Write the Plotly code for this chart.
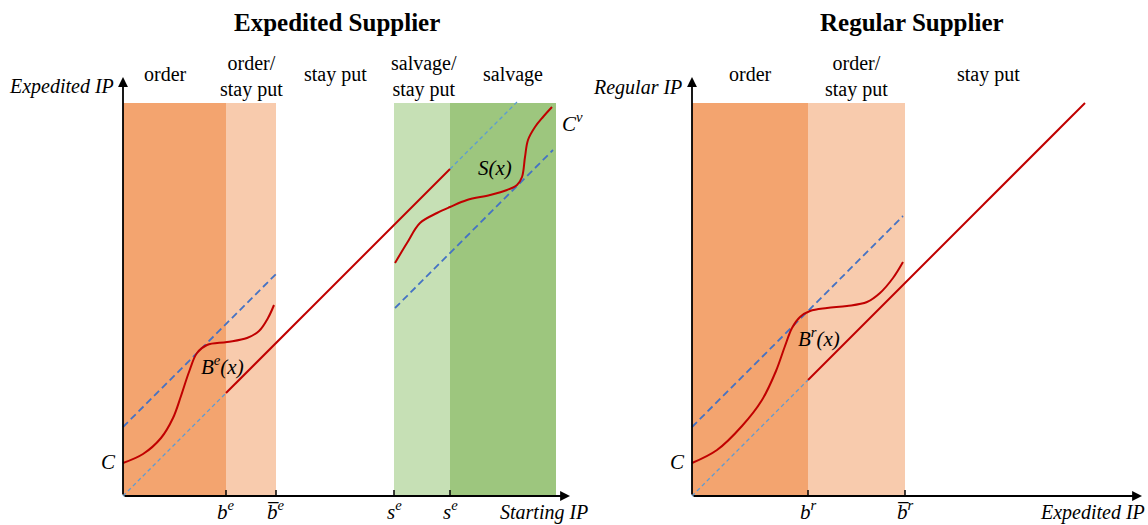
import plotly.graph_objects as go

# ---------------- Expedited supplier panel ----------------
EXP_BREAKS = [103, 153, 271, 327]          # b^e, b̄^e, s^e, s^e
EXP_BREAK_LABELS = ["b<sup>e</sup>", "b\u0305<sup>e</sup>", "s<sup>e</sup>", "s<sup>e</sup>"]
EXP_X_END = 433                             # right edge of the salvage band
EXP_BAND_TOP = 393
EXP_REGIONS = ["order", "order/<br>stay put", "stay put", "salvage/<br>stay put", "salvage"]
EXP_REGION_X = [42, 128, 212, 301, 390]

# B^e(x): order-up-to curve
BE_X = [0, 20, 38, 50, 58, 66, 74, 84, 104, 124, 136, 145, 151]
BE_Y = [33, 42, 58, 78, 100, 124, 143, 151, 154, 158, 165, 178, 191]
# S(x): salvage-down-to curve
S_X = [272, 284, 297, 314, 327, 344, 367, 384, 394, 399, 402, 405, 412, 420, 429]
S_Y = [233, 253, 273, 283, 289, 296, 301, 306, 311, 319, 339, 356, 369, 379, 389]
# 45-degree reference lines (start x, end x, intercept)
EXP_DIAG = [0, 394, 0]
EXP_UPPER = [0, 153, 69]
EXP_LOWER = [272, 430, -84]

# ---------------- Regular supplier panel ----------------
REG_BREAKS = [116, 213]                     # b^r, b̄^r
REG_BREAK_LABELS = ["b<sup>r</sup>", "b\u0305<sup>r</sup>"]
REG_BAND_TOP = 393
REG_REGIONS = ["order", "order/<br>stay put", "stay put"]
REG_REGION_X = [58, 164, 296]

BR_X = [0, 25, 50, 70, 84, 93, 100, 108, 118, 135, 155, 175, 188, 201, 211]
BR_Y = [33, 46, 70, 96, 125, 150, 168, 179, 185, 188, 190, 194, 203, 218, 234]
REG_DIAG = [0, 393, 0]
REG_UPPER = [0, 211, 69]

RED = "#C00000"
BLUE = "#4472C4"
LIGHT_BLUE = "#5B9BD5"
ORANGE_DARK = "#F3A46F"
ORANGE_LIGHT = "#F8CBAD"
GREEN_LIGHT = "#C6E0B5"
GREEN_DARK = "#9DC67E"

SERIF = "Liberation Serif"

fig = go.Figure()
shapes = []
annotations = []


def rect(xref, yref, x0, x1, y1, color):
    shapes.append(dict(type="rect", xref=xref, yref=yref, x0=x0, x1=x1, y0=0, y1=y1,
                       fillcolor=color, line=dict(width=0), layer="below"))


def line_trace(xa, ya, xs, ys, color, width, dash="solid", shape="linear"):
    fig.add_trace(go.Scatter(x=xs, y=ys, mode="lines", xaxis=xa, yaxis=ya,
                             line=dict(color=color, width=width, dash=dash, shape=shape),
                             hoverinfo="skip", showlegend=False))


def diag(xa, ya, spec, color, width, dash="solid"):
    x0, x1, b = spec
    line_trace(xa, ya, [x0, x1], [x0 + b, x1 + b], color, width, dash)


def text(xref, yref, x, y, s, size=20, italic=False, bold=False, xanchor="center",
         yanchor="middle", yshift=0, family=SERIF):
    if bold:
        s = "<b>" + s + "</b>"
    if italic:
        s = "<i>" + s + "</i>"
    annotations.append(dict(xref=xref, yref=yref, x=x, y=y, text=s, showarrow=False,
                            xanchor=xanchor, yanchor=yanchor, yshift=yshift,
                            font=dict(family=family, size=size, color="black")))


def axis_arrow(xref, yref, x, y):
    annotations.append(dict(xref=xref, yref=yref, axref=xref, ayref=yref, x=x, y=y, ax=0, ay=0,
                            text="", showarrow=True, arrowhead=2, arrowsize=1.1,
                            arrowwidth=1.8, arrowcolor="black"))


# ----- panel 1 bands -----
rect("x", "y", 0, EXP_BREAKS[0], EXP_BAND_TOP, ORANGE_DARK)
rect("x", "y", EXP_BREAKS[0], EXP_BREAKS[1], EXP_BAND_TOP, ORANGE_LIGHT)
rect("x", "y", EXP_BREAKS[2], EXP_BREAKS[3], EXP_BAND_TOP, GREEN_LIGHT)
rect("x", "y", EXP_BREAKS[3], EXP_X_END, EXP_BAND_TOP, GREEN_DARK)

# ----- panel 2 bands -----
rect("x2", "y2", 0, REG_BREAKS[0], REG_BAND_TOP, ORANGE_DARK)
rect("x2", "y2", REG_BREAKS[0], REG_BREAKS[1], REG_BAND_TOP, ORANGE_LIGHT)

# ----- panel 1 lines -----
diag("x", "y", [EXP_DIAG[0], EXP_BREAKS[0], 0], LIGHT_BLUE, 1.3, "4px,3px")
diag("x", "y", [EXP_BREAKS[3], EXP_DIAG[1], 0], LIGHT_BLUE, 1.3, "4px,3px")
diag("x", "y", EXP_UPPER, BLUE, 1.8, "7px,4px")
diag("x", "y", EXP_LOWER, BLUE, 1.8, "7px,4px")
diag("x", "y", [EXP_BREAKS[0], EXP_BREAKS[3], 0], RED, 2)
line_trace("x", "y", BE_X, BE_Y, RED, 2, shape="spline")
line_trace("x", "y", S_X, S_Y, RED, 2, shape="spline")

# ----- panel 2 lines -----
diag("x2", "y2", [REG_DIAG[0], REG_BREAKS[0], 0], LIGHT_BLUE, 1.3, "4px,3px")
diag("x2", "y2", REG_UPPER, BLUE, 1.8, "7px,4px")
diag("x2", "y2", [REG_BREAKS[0], REG_DIAG[1], 0], RED, 2)
line_trace("x2", "y2", BR_X, BR_Y, RED, 2, shape="spline")

# ----- axes with arrowheads and tick marks -----
axis_arrow("x", "y", 447, 0)
axis_arrow("x", "y", 0, 419)
axis_arrow("x2", "y2", 450, 0)
axis_arrow("x2", "y2", 0, 419)
for xb in EXP_BREAKS:
    shapes.append(dict(type="line", xref="x", yref="y", x0=xb, x1=xb, y0=0, y1=6,
                       line=dict(color="black", width=1.5)))
for xb in REG_BREAKS:
    shapes.append(dict(type="line", xref="x2", yref="y2", x0=xb, x1=xb, y0=0, y1=6,
                       line=dict(color="black", width=1.5)))

# ----- text -----
text("x", "y", 214, 474, "Expedited Supplier", size=25, bold=True)
text("x2", "y2", 220, 474, "Regular Supplier", size=25, bold=True)
for lbl, xc in zip(EXP_REGIONS, EXP_REGION_X):
    text("x", "y", xc, 420 if "<br>" in lbl else 422, lbl)
for lbl, xc in zip(REG_REGIONS, REG_REGION_X):
    text("x2", "y2", xc, 420 if "<br>" in lbl else 422, lbl)
for lbl, xb in zip(EXP_BREAK_LABELS, EXP_BREAKS):
    text("x", "y", xb, -28, lbl, size=21, italic=True, yanchor="bottom", yshift=-2)
for lbl, xb in zip(REG_BREAK_LABELS, REG_BREAKS):
    text("x2", "y2", xb, -28, lbl, size=21, italic=True, yanchor="bottom", yshift=-2)
text("x", "y", -7, 410, "Expedited IP", italic=True, xanchor="right")
text("x2", "y2", -8, 409, "Regular IP", italic=True, xanchor="right")
text("x", "y", 467, -28, "Starting IP", italic=True, xanchor="right", yanchor="bottom", yshift=-2)
text("x2", "y2", 455, -28, "Expedited IP", italic=True, xanchor="right", yanchor="bottom", yshift=-2)
text("x", "y", -5, 34, "C", size=21, italic=True, xanchor="right")
text("x2", "y2", -5, 34, "C", size=21, italic=True, xanchor="right")
text("x", "y", 437, 374, "C<sup>v</sup>", size=21, italic=True, xanchor="left")
text("x", "y", 99, 131, "B<sup>e</sup>(x)", size=21, italic=True)
text("x", "y", 372, 328, "S(x)", size=21, italic=True)
text("x2", "y2", 127, 159, "B<sup>r</sup>(x)", size=21, italic=True)

W, H = 1148, 525
SPLIT = 590
hidden = dict(visible=False, showgrid=False, zeroline=False, fixedrange=True)
fig.update_layout(
    width=W, height=H, margin=dict(l=0, r=0, t=0, b=0),
    paper_bgcolor="white", plot_bgcolor="rgba(0,0,0,0)",
    xaxis=dict(domain=[0, SPLIT / W], range=[-123, SPLIT - 123], **hidden),
    yaxis=dict(domain=[0, 1], range=[-29, 496], **hidden),
    xaxis2=dict(domain=[SPLIT / W, 1], range=[-(692 - SPLIT), W - 692], **hidden),
    yaxis2=dict(domain=[0, 1], range=[-29, 496], anchor="x2", **hidden),
    shapes=shapes, annotations=annotations, showlegend=False,
)

fig.write_html("out.html")
